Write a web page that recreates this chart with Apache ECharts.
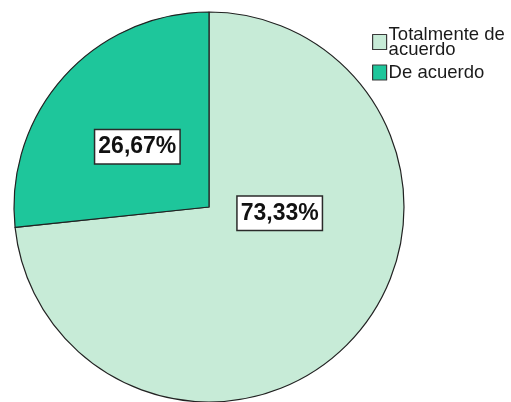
<!DOCTYPE html>
<html>
<head>
<meta charset="utf-8">
<script src="https://cdn.jsdelivr.net/npm/echarts@6/dist/echarts.min.js"></script>
<style>
  html, body { margin: 0; padding: 0; background: #ffffff; }
  #chart { width: 511px; height: 402px; }
</style>
</head>
<body>
<div id="chart"></div>
<script>
// Response categories and their shares (percent)
const categories = ['Totalmente de acuerdo', 'De acuerdo'];
const legendLabels = ['Totalmente de\nacuerdo', 'De acuerdo'];
const percentages = [73.33, 26.67];
const sliceColors = ['#c7ebd7', '#1ec69b'];

const chart = echarts.init(document.getElementById('chart'), null, { renderer: 'canvas' });

const fmt = v => v.toFixed(2).replace('.', ',') + '%';

chart.setOption({
  animation: false,
  legend: {
    orient: 'vertical',
    left: 372,
    top: 25,
    padding: 0,
    icon: 'rect',
    itemWidth: 14,
    itemHeight: 15,
    itemGap: 4,
    selectedMode: false,
    formatter: name => legendLabels[categories.indexOf(name)],
    textStyle: {
      fontFamily: 'Liberation Sans, Arial, sans-serif',
      fontSize: 18.5,
      lineHeight: 15,
      color: '#1a1a1a',
      padding: [0, 0, 0, -3]
    },
    itemStyle: { borderColor: '#3a3a3a', borderWidth: 1.2 },
    data: categories
  },
  series: [{
    type: 'pie',
    center: [209, 207],
    radius: 195,
    startAngle: 90,
    clockwise: true,
    itemStyle: { borderColor: '#222222', borderWidth: 1.2 },
    label: {
      show: true,
      position: 'inside',
      formatter: p => fmt(p.value),
      fontFamily: 'Liberation Sans, Arial, sans-serif',
      fontSize: 23,
      fontWeight: 'bold',
      color: '#111111',
      backgroundColor: '#ffffff',
      borderColor: '#2a2a2a',
      borderWidth: 1.5,
      padding: [6, 3, 4, 3]
    },
    labelLayout: p => (p.dataIndex === 0 ? { dx: -4, dy: -61 } : { dx: 3, dy: 7 }),
    emphasis: { disabled: true },
    data: categories.map((name, i) => ({
      name: name,
      value: percentages[i],
      itemStyle: { color: sliceColors[i] }
    }))
  }]
});
</script>
</body>
</html>
